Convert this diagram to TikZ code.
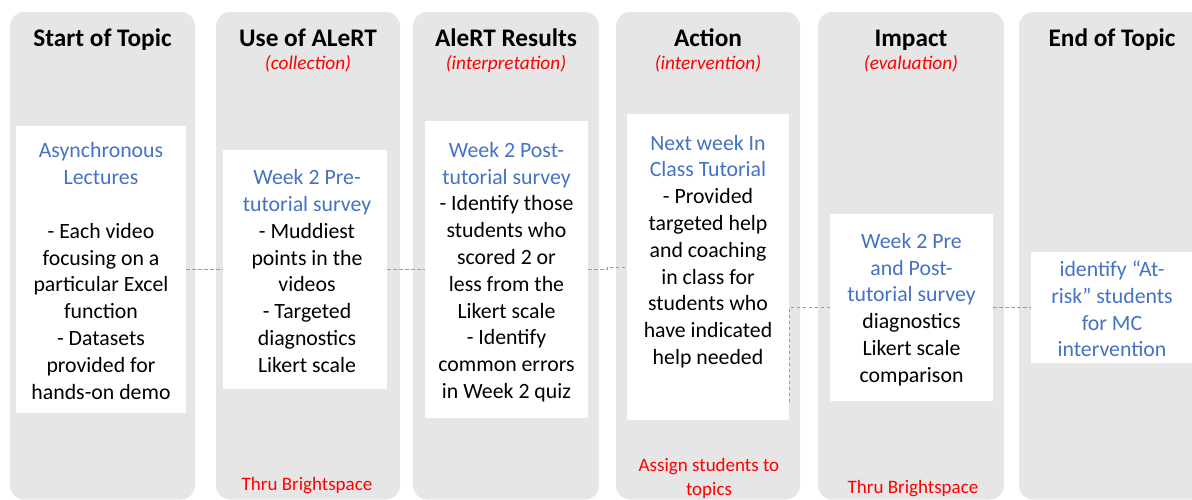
\documentclass[tikz,border=0pt]{standalone}
\usepackage{fontspec}
\setmainfont{Carlito}
\usetikzlibrary{calc}
\definecolor{colgrey}{HTML}{E6E6E6}
\definecolor{accblue}{HTML}{4472C4}
\definecolor{linkblue}{HTML}{7AA2DA}
\definecolor{notered}{HTML}{FF0000}

\begin{document}
\begin{tikzpicture}[x=1pt,y=-1pt,
  column/.style={fill=colgrey, rounded corners=14pt},
  card/.style={fill=white, draw=none, inner sep=0pt, anchor=north west},
  head/.style={font=\fontsize{25.3}{30}\selectfont\bfseries, inner sep=0pt, anchor=base},
  phase/.style={font=\fontsize{19.3}{23}\selectfont\itshape, text=notered, inner sep=0pt, anchor=base},
  body/.style={font=\fontsize{21.8}{26.8}\selectfont, align=center, inner sep=0pt},
  note/.style={font=\fontsize{19}{23.2}\selectfont, text=notered, align=center, inner sep=0pt},
  link/.style={draw=linkblue, line width=1pt, dash pattern=on 3.5pt off 2.5pt}
]
\useasboundingbox (0,0) rectangle (1192,499);
\clip (0,0) rectangle (1192,499);

% grey columns
\fill[column] (10,12)   rectangle (195,499.5);
\fill[column] (216,12)  rectangle (400,499.5);
\fill[column] (413,12)  rectangle (599,499.5);
\fill[column] (616,12)  rectangle (800,499.5);
\fill[column] (818,12)  rectangle (1004,499.5);
\fill[column] (1019,12) rectangle (1205,499.5);

% column headings
\node[head] (h1) at (102.5,46.5) {Start of Topic};
\node[head] (h2) at (308,46.5) {Use of ALeRT};
\node[head] (h3) at (506,46.5) {AleRT Results};
\node[head] (h4) at (708,46.5) {Action};
\node[head] (h5) at (911,46.5) {Impact};
\node[head] (h6) at (1112,46.5) {End of Topic};

\node[phase] (p2) at (308,69.5) {(collection)};
\node[phase] (p3) at (506,69.5) {(interpretation)};
\node[phase] (p4) at (708,69.5) {(intervention)};
\node[phase] (p5) at (911,69.5) {(evaluation)};

% white cards
\node[card, minimum width=170pt, minimum height=287pt] (b1) at (16,126) {};
\node[card, minimum width=164pt, minimum height=239pt] (b2) at (223,150) {};
\node[card, minimum width=163pt, minimum height=297pt] (b3) at (425,121) {};
\node[card, minimum width=162pt, minimum height=306pt] (b4) at (627,114) {};
\node[card, minimum width=163pt, minimum height=187pt] (b5) at (830,214) {};
\node[card, minimum width=162pt, minimum height=111pt] (b6) at (1031,252) {};

% card texts
\node[body] (t1) at (101,271) {\textcolor{accblue}{Asynchronous}\\\textcolor{accblue}{Lectures}\\~\\- Each video\\focusing on a\\particular Excel\\function\\- Datasets\\provided for\\hands-on demo};
\node[body] (t2) at (307,271) {\textcolor{accblue}{Week 2 Pre-}\\\textcolor{accblue}{tutorial survey}\\- Muddiest\\points in the\\videos\\- Targeted\\diagnostics\\Likert scale};
\node[body] (t3) at (506.5,272) {\textcolor{accblue}{Week 2 Post-}\\\textcolor{accblue}{tutorial survey}\\- Identify those\\students who\\scored 2 or\\less from the\\Likert scale\\- Identify\\common errors\\in Week 2 quiz};
\node[body] (t4) at (708,251.5) {\textcolor{accblue}{Next week In}\\\textcolor{accblue}{Class Tutorial}\\- Provided\\targeted help\\and coaching\\in class for\\students who\\have indicated\\help needed};
\node[body] (t5) at (911.5,309.5) {\textcolor{accblue}{Week 2 Pre}\\\textcolor{accblue}{and Post-}\\\textcolor{accblue}{tutorial survey}\\diagnostics\\Likert scale\\comparison};
\node[body, text=accblue] (t6) at (1112,309) {identify “At-\\risk” students\\for MC\\intervention};

% notes at the foot of the columns
\node[note] (n2) at (307,486) {Thru Brightspace};
\node[note] (n4) at (709,478.5) {Assign students to\\topics};
\node[note] (n5) at (913,489) {Thru Brightspace};

% dashed connectors
\draw[link] (b1.east) -- (b2.west);
\draw[link] (b2.east) -- (b3.west);
\draw[link] (b3.east) -- ++(19,0) |- (b4.west);
\draw[link] ($(b4.south east)+(0,-18)$) |- (b5.west);
\draw[link] (b5.east) -- (b6.west);
\end{tikzpicture}
\end{document}
